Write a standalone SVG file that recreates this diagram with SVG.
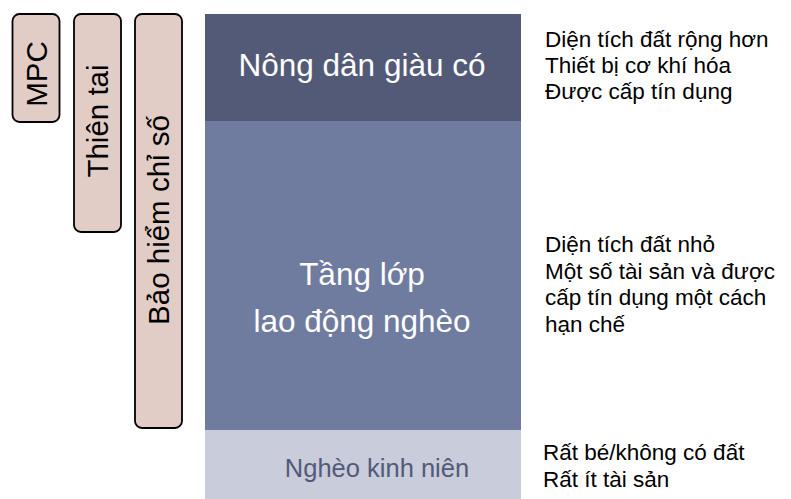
<svg xmlns="http://www.w3.org/2000/svg" width="791" height="499" viewBox="0 0 791 499">
  <style>
    .tag { fill: #e2cdc6; stroke: #000; stroke-width: 1.8; }
    .tagtxt { font-family: "Liberation Sans", Arial, sans-serif; font-size: 29.5px; fill: #000; text-anchor: middle; }
    .tier { font-family: "Liberation Sans", Arial, sans-serif; text-anchor: middle; }
    .note { font-family: "Liberation Sans", Arial, sans-serif; font-size: 22.5px; fill: #000; }
  </style>

  <!-- vertical side tags -->
  <g id="tag-mpc">
    <rect class="tag" x="12.5" y="14" width="47" height="108" rx="7"/>
    <text class="tagtxt" transform="translate(47 74) rotate(-90)">MPC</text>
  </g>
  <g id="tag-thientai">
    <rect class="tag" x="74" y="14" width="47" height="218" rx="7"/>
    <text class="tagtxt" transform="translate(108 121) rotate(-90)">Thiên tai</text>
  </g>
  <g id="tag-baohiem">
    <rect class="tag" x="135" y="14" width="47" height="414" rx="7"/>
    <text class="tagtxt" transform="translate(169 220) rotate(-90)">Bảo hiểm chỉ số</text>
  </g>

  <!-- stacked tiers -->
  <g id="tier-rich">
    <rect x="205" y="14" width="316" height="107" fill="#525a78"/>
    <text class="tier" x="362" y="76" font-size="31.5" fill="#ffffff">Nông dân giàu có</text>
  </g>
  <g id="tier-working">
    <rect x="205" y="121" width="316" height="309" fill="#707ba0"/>
    <text class="tier" x="362" y="285" font-size="31.5" fill="#ffffff">Tầng lớp</text>
    <text class="tier" x="362" y="332" font-size="31.5" fill="#ffffff">lao động nghèo</text>
  </g>
  <g id="tier-poor">
    <rect x="205" y="430" width="316" height="69" fill="#c8ccdb"/>
    <text class="tier" x="377" y="477" font-size="25.5" fill="#525a78">Nghèo kinh niên</text>
  </g>

  <!-- descriptions -->
  <g id="note-rich">
    <text class="note" x="545" y="47">Diện tích đất rộng hơn</text>
    <text class="note" x="545" y="73">Thiết bị cơ khí hóa</text>
    <text class="note" x="545" y="99">Được cấp tín dụng</text>
  </g>
  <g id="note-working">
    <text class="note" x="545" y="252">Diện tích đất nhỏ</text>
    <text class="note" x="545" y="278.5">Một số tài sản và được</text>
    <text class="note" x="545" y="305">cấp tín dụng một cách</text>
    <text class="note" x="545" y="331.5">hạn chế</text>
  </g>
  <g id="note-poor">
    <text class="note" x="543" y="460">Rất bé/không có đất</text>
    <text class="note" x="543" y="487">Rất ít tài sản</text>
  </g>

  <g id="connectors"/>
</svg>
